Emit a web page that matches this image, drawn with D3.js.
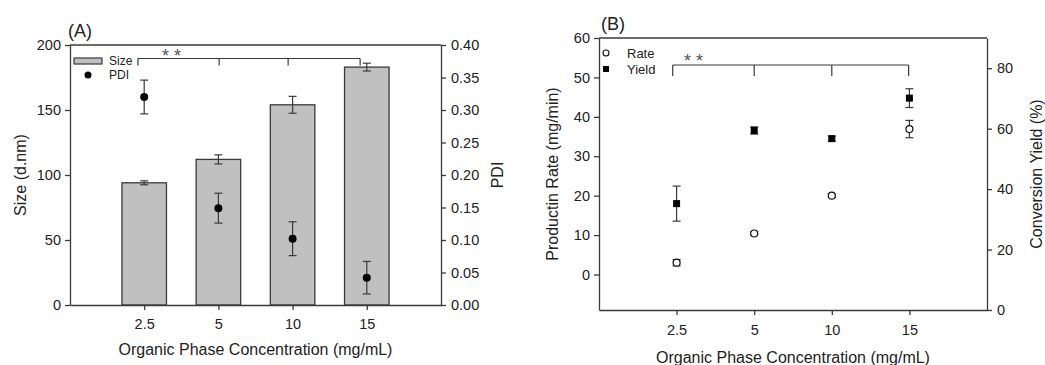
<!DOCTYPE html>
<html>
<head>
<meta charset="utf-8">
<script src="https://cdn.jsdelivr.net/npm/d3@7"></script>
<style>
  body { margin: 0; background: #fff; }
  svg { font-family: Arial, "Liberation Sans", sans-serif; }
  .axis path, .axis line { stroke: #3a3a3a; stroke-width: 1.3; }
  .axis text { font-size: 14.5px; fill: #222; }
</style>
</head>
<body>
<svg id="chart" width="1045" height="365"></svg>
<script>
// categories shared by both panels
var categories = ["2.5", "5", "10", "15"];

// panel A
var sizeMean = [94, 112, 154, 183];
var sizeErr = [1.5, 3.5, 6.5, 3];
var pdiMean = [0.32, 0.149, 0.102, 0.042];
var pdiErr = [0.026, 0.023, 0.026, 0.025];
var sizeTicks = [0, 50, 100, 150, 200];
var pdiTicks = [0, 0.05, 0.10, 0.15, 0.20, 0.25, 0.30, 0.35, 0.40];

// panel B
var rateMean = [3, 10.4, 20, 36.9];
var rateErr = [0.8, 0.4, 0.4, 2.2];
var yieldMean = [35.2, 59.4, 56.7, 70.1];
var yieldErr = [5.8, 1.2, 0.8, 3.1];
var rateTicks = [0, 10, 20, 30, 40, 50, 60];
var yieldTicks = [0, 20, 40, 60, 80];

var svg = d3.select("#chart");
var ink = "#3a3a3a";

function frame(g, x0, x1, y0) {
  g.append("line").attr("x1", x0).attr("x2", x1).attr("y1", y0).attr("y2", y0)
    .attr("stroke", ink).attr("stroke-width", 1.3);
}

function errorBars(g, x, y, mean, err, cap) {
  var e = g.append("g").attr("stroke", ink).attr("stroke-width", 1.2);
  categories.forEach(function (c, i) {
    var cx = x(c), top = y(mean[i] + err[i]), bot = y(mean[i] - err[i]);
    e.append("line").attr("x1", cx).attr("x2", cx).attr("y1", top).attr("y2", bot);
    e.append("line").attr("x1", cx - cap).attr("x2", cx + cap).attr("y1", top).attr("y2", top);
    e.append("line").attr("x1", cx - cap).attr("x2", cx + cap).attr("y1", bot).attr("y2", bot);
  });
}

// significance bracket with "* *" above it
function bracket(g, x, pos, yTop, drop, starX, starY) {
  var b = g.append("g").attr("stroke", ink).attr("stroke-width", 1.2).attr("fill", "none");
  b.append("line").attr("x1", x(pos[0])).attr("x2", x(pos[pos.length - 1]))
    .attr("y1", yTop).attr("y2", yTop);
  pos.forEach(function (p) {
    b.append("line").attr("x1", x(p)).attr("x2", x(p)).attr("y1", yTop).attr("y2", yTop + drop);
  });
  g.append("text").attr("x", starX).attr("y", starY).text("* *")
    .attr("font-size", 18).attr("fill", "#555");
}

function rotLabel(g, x, y, txt) {
  g.append("text").attr("transform", "translate(" + x + "," + y + ") rotate(-90)")
    .attr("text-anchor", "middle").attr("font-size", 16).attr("fill", "#222").text(txt);
}

// ---------- Panel A ----------
(function () {
  var L = 70, R = 441, T = 45, B = 305;
  var g = svg.append("g");
  var x = d3.scalePoint().domain(categories).range([L, R]).padding(1);
  var xl = d3.scaleLinear().domain([0, 5]).range([L, R]);
  var y = d3.scaleLinear().domain([0, 200]).range([B, T]);
  var y2 = d3.scaleLinear().domain([0, 0.4]).range([B, T]);
  var bw = x.step() * 0.6;

  g.selectAll("rect.bar").data(sizeMean).enter().append("rect")
    .attr("class", "bar")
    .attr("x", function (d, i) { return x(categories[i]) - bw / 2; })
    .attr("width", bw)
    .attr("y", function (d) { return y(d); })
    .attr("height", function (d) { return B - y(d); })
    .attr("fill", "#c0c0c0").attr("stroke", ink).attr("stroke-width", 1.3);
  errorBars(g, x, y, sizeMean, sizeErr, 4);

  errorBars(g, x, y2, pdiMean, pdiErr, 4);
  g.selectAll("circle.pdi").data(pdiMean).enter().append("circle")
    .attr("cx", function (d, i) { return x(categories[i]); })
    .attr("cy", function (d) { return y2(d); })
    .attr("r", 4).attr("fill", "#000");

  g.append("g").attr("class", "axis").attr("transform", "translate(" + L + ",0)")
    .call(d3.axisLeft(y).tickValues(sizeTicks).tickSize(5).tickSizeOuter(0).tickPadding(4));
  g.append("g").attr("class", "axis").attr("transform", "translate(" + R + ",0)")
    .call(d3.axisRight(y2).tickValues(pdiTicks).tickSize(5).tickSizeOuter(0).tickPadding(5)
      .tickFormat(d3.format(".2f")));
  g.append("g").attr("class", "axis").attr("transform", "translate(0," + B + ")")
    .call(d3.axisBottom(x).tickSize(5).tickSizeOuter(0).tickPadding(9));
  frame(g, L, R, T);

  bracket(g, xl, [0.916, 2.01, 2.94, 3.91], 58.5, 7, 162, 62);

  // legend
  g.append("rect").attr("x", L + 4).attr("y", 58).attr("width", 28).attr("height", 6)
    .attr("fill", "#c0c0c0").attr("stroke", ink).attr("stroke-width", 1.2);
  g.append("text").attr("x", L + 39).attr("y", 65).attr("font-size", 12).attr("fill", "#222").text("Size");
  g.append("circle").attr("cx", L + 18).attr("cy", 75).attr("r", 3.5).attr("fill", "#000");
  g.append("text").attr("x", L + 39).attr("y", 79).attr("font-size", 12).attr("fill", "#222").text("PDI");

  g.append("text").attr("x", 68).attr("y", 37).attr("font-size", 18).attr("fill", "#222").text("(A)");
  rotLabel(g, 26, (T + B) / 2, "Size (d.nm)");
  rotLabel(g, 503, (T + B) / 2, "PDI");
  g.append("text").attr("x", (L + R) / 2).attr("y", 355).attr("text-anchor", "middle")
    .attr("font-size", 16).attr("fill", "#222").text("Organic Phase Concentration (mg/mL)");
})();

// ---------- Panel B ----------
(function () {
  var L = 599, R = 987, T = 38, B = 310;
  var g = svg.append("g");
  var x = d3.scalePoint().domain(categories).range([L, R]).padding(1);
  var xl = d3.scaleLinear().domain([0, 5]).range([L, R]);
  var y = d3.scaleLinear().domain([-9, 60]).range([B, T]);
  var y2 = d3.scaleLinear().domain([0, 90]).range([B, T]);

  errorBars(g, x, y2, yieldMean, yieldErr, 4);
  g.selectAll("rect.yield").data(yieldMean).enter().append("rect")
    .attr("x", function (d, i) { return x(categories[i]) - 3.5; })
    .attr("y", function (d) { return y2(d) - 3.5; })
    .attr("width", 7).attr("height", 7).attr("fill", "#000");

  errorBars(g, x, y, rateMean, rateErr, 4);
  g.selectAll("circle.rate").data(rateMean).enter().append("circle")
    .attr("cx", function (d, i) { return x(categories[i]); })
    .attr("cy", function (d) { return y(d); })
    .attr("r", 3.5).attr("fill", "#fff").attr("stroke", "#111").attr("stroke-width", 1.2);

  g.append("g").attr("class", "axis").attr("transform", "translate(" + L + ",0)")
    .call(d3.axisLeft(y).tickValues(rateTicks).tickSize(5).tickSizeOuter(0).tickPadding(4));
  g.append("g").attr("class", "axis").attr("transform", "translate(" + R + ",0)")
    .call(d3.axisRight(y2).tickValues(yieldTicks).tickSize(5).tickSizeOuter(0).tickPadding(5));
  g.append("g").attr("class", "axis").attr("transform", "translate(0," + B + ")")
    .call(d3.axisBottom(x).tickSize(5).tickSizeOuter(0).tickPadding(10));
  frame(g, L, R, T);

  bracket(g, xl, [0.95, 2, 3, 3.99], 65, 11, 684, 67);

  // legend
  g.append("circle").attr("cx", L + 7).attr("cy", 53).attr("r", 3).attr("fill", "#fff")
    .attr("stroke", "#111").attr("stroke-width", 1.1);
  g.append("text").attr("x", L + 28).attr("y", 57.5).attr("font-size", 13).attr("fill", "#222").text("Rate");
  g.append("rect").attr("x", L + 4).attr("y", 66).attr("width", 6).attr("height", 6).attr("fill", "#000");
  g.append("text").attr("x", L + 28).attr("y", 73.5).attr("font-size", 13).attr("fill", "#222").text("Yield");

  g.append("text").attr("x", 601).attr("y", 30).attr("font-size", 18).attr("fill", "#222").text("(B)");
  rotLabel(g, 558, (T + B) / 2, "Productin Rate (mg/min)");
  rotLabel(g, 1042, (T + B) / 2, "Conversion Yield (%)");
  g.append("text").attr("x", (L + R) / 2).attr("y", 363).attr("text-anchor", "middle")
    .attr("font-size", 16).attr("fill", "#222").text("Organic Phase Concentration (mg/mL)");
})();
</script>
</body>
</html>
